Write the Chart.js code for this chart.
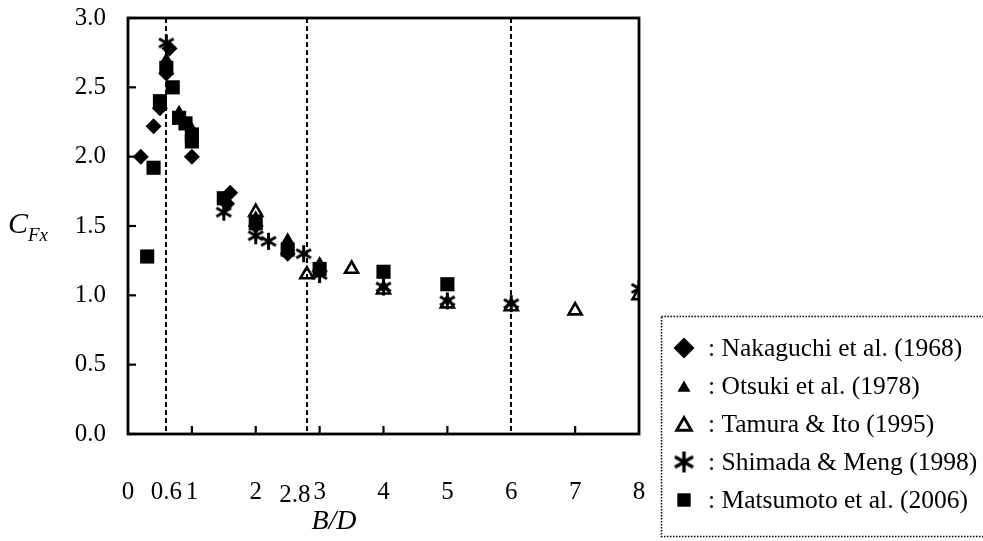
<!DOCTYPE html>
<html><head><meta charset="utf-8">
<script src="https://cdn.jsdelivr.net/npm/chart.js@4/dist/chart.umd.min.js"></script>
<style>html,body{margin:0;padding:0;background:#fff;overflow:hidden}</style>
</head><body>
<canvas id="c" width="983" height="541"></canvas>
<script>
// ---- data ----
const nakaguchiX = [0.2, 0.4, 0.5, 0.6, 0.65, 1.0, 1.6, 1.55, 2.0, 2.5];
const nakaguchiY = [2.0, 2.22, 2.35, 2.6, 2.78, 2.0, 1.74, 1.66, 1.5, 1.3];
const otsukiX = [0.6, 0.8, 1.0, 2.0, 2.5, 3.0, 4.0];
const otsukiY = [2.7, 2.32, 2.2, 1.56, 1.4, 1.23, 1.06];
const tamuraX = [2.0, 2.8, 3.5, 4.0, 5.0, 6.0, 7.0, 8.0];
const tamuraY = [1.6, 1.15, 1.19, 1.04, 0.94, 0.92, 0.89, 1.0];
const shimadaX = [0.6, 1.5, 2.0, 2.2, 2.75, 3.0, 4.0, 5.0, 6.0, 8.0];
const shimadaY = [2.82, 1.6, 1.43, 1.39, 1.3, 1.15, 1.06, 0.96, 0.94, 1.05];
const matsumotoX = [0.3, 0.4, 0.5, 0.6, 0.7, 0.8, 0.9, 1.0, 1.0, 1.5, 2.0, 2.5, 3.0, 4.0, 5.0];
const matsumotoY = [1.28, 1.92, 2.4, 2.64, 2.5, 2.28, 2.24, 2.16, 2.11, 1.7, 1.52, 1.33, 1.19, 1.17, 1.08];
const seriesNames = [": Nakaguchi et al. (1968)", ": Otsuki et al. (1978)", ": Tamura & Ito (1995)", ": Shimada & Meng (1998)", ": Matsumoto et al. (2006)"];
const xTickLabels = [0, 0.6, 1, 2, 2.8, 3, 4, 5, 6, 7, 8];
const xTickMarks = [1, 2, 3, 4, 5, 7];
const yTickLabels = [0, 0.5, 1.0, 1.5, 2.0, 2.5, 3.0];
const dashedLines = [0.6, 2.8, 6];

function pts(xs, ys) { return xs.map((x, i) => ({ x: x, y: ys[i] })); }
function makeAsterisk(size, lw) {
  const c = document.createElement('canvas');
  c.width = c.height = size;
  const g = c.getContext('2d');
  g.strokeStyle = '#000'; g.lineWidth = lw;
  const r = size / 2 - 1, cx = size / 2;
  [90, 30, 150].forEach(d => {
    const a = d * Math.PI / 180;
    g.beginPath();
    g.moveTo(cx - r * Math.cos(a), cx - r * Math.sin(a));
    g.lineTo(cx + r * Math.cos(a), cx + r * Math.sin(a));
    g.stroke();
  });
  return c;
}
const astSmall = makeAsterisk(19, 3);
const astBig = makeAsterisk(23, 3.4);

const styles = [
  { pointStyle: 'rectRot', radius: 8, bg: '#000', bw: 0 },
  { pointStyle: 'triangle', radius: 7.5, bg: '#000', bw: 0 },
  { pointStyle: 'triangle', radius: 7.5, bg: 'rgba(0,0,0,0)', bw: 2.6 },
  { pointStyle: astSmall, radius: 9, bg: '#000', bw: 0 },
  { pointStyle: 'rect', radius: 10, bg: '#000', bw: 0 }
];
const legendStyles = [
  { pointStyle: 'rectRot', radius: 10.5, borderWidth: 0 },
  { pointStyle: 'triangle', radius: 7.5, borderWidth: 0 },
  { pointStyle: 'triangle', radius: 8.5, borderWidth: 2.8, open: true },
  { pointStyle: astBig, radius: 11, borderWidth: 0 },
  { pointStyle: 'rect', radius: 9.5, borderWidth: 0 }
];
const allData = [pts(nakaguchiX, nakaguchiY), pts(otsukiX, otsukiY), pts(tamuraX, tamuraY), pts(shimadaX, shimadaY), pts(matsumotoX, matsumotoY)];

const SERIF = '"Liberation Serif", "Times New Roman", serif';

const framePlugin = {
  id: 'frame',
  beforeDatasetsDraw(chart) {
    const ctx = chart.ctx, xs = chart.scales.x, ys = chart.scales.y, a = chart.chartArea;
    ctx.save();
    ctx.strokeStyle = '#000'; ctx.lineWidth = 2; ctx.setLineDash([5, 3]);
    dashedLines.forEach(v => {
      const px = Math.round(xs.getPixelForValue(v));
      ctx.beginPath(); ctx.moveTo(px, a.top); ctx.lineTo(px, a.bottom); ctx.stroke();
    });
    ctx.setLineDash([]);
    ctx.lineWidth = 2.8;
    ctx.strokeRect(a.left, a.top, a.right - a.left, a.bottom - a.top);
    ctx.lineWidth = 2.2;
    yTickLabels.forEach(v => {
      const py = ys.getPixelForValue(v);
      ctx.beginPath(); ctx.moveTo(a.left, py); ctx.lineTo(a.left + 8, py); ctx.stroke();
    });
    xTickMarks.forEach(v => {
      const px = xs.getPixelForValue(v);
      ctx.beginPath(); ctx.moveTo(px, a.bottom); ctx.lineTo(px, a.bottom - 8); ctx.stroke();
    });
    ctx.fillStyle = '#000';
    ctx.font = '25px ' + SERIF;
    ctx.textAlign = 'right'; ctx.textBaseline = 'middle';
    yTickLabels.forEach(v => ctx.fillText(v.toFixed(1), a.left - 22, ys.getPixelForValue(v)));
    ctx.textAlign = 'center';
    const shift = { 2.8: [-12, 3] };
    xTickLabels.forEach(v => {
      const s = shift[v] || [0, 0];
      ctx.fillText(String(v), xs.getPixelForValue(v) + s[0], a.bottom + 58 + s[1]);
    });
    ctx.font = 'italic 30px ' + SERIF;
    ctx.textAlign = 'left'; ctx.textBaseline = 'alphabetic';
    ctx.fillText('C', 8, 233);
    ctx.font = 'italic 19px ' + SERIF;
    ctx.fillText('Fx', 28, 241);
    ctx.font = 'italic 28px ' + SERIF;
    ctx.textAlign = 'center'; ctx.textBaseline = 'middle';
    ctx.fillText('B/D', 334, a.bottom + 88);
    ctx.restore();
  },
  afterDraw(chart) {
    const ctx = chart.ctx;
    ctx.save();
    ctx.strokeStyle = '#000'; ctx.lineWidth = 1.5; ctx.setLineDash([1.5, 1.5]);
    ctx.strokeRect(661.5, 316.5, 330, 220);
    ctx.setLineDash([]);
    const rows = [348, 386, 424, 462, 500];
    seriesNames.forEach((name, i) => {
      const st = legendStyles[i];
      ctx.fillStyle = st.open ? 'rgba(0,0,0,0)' : '#000';
      ctx.strokeStyle = '#000';
      ctx.lineWidth = st.borderWidth;
      Chart.helpers.drawPoint(ctx, { pointStyle: st.pointStyle, radius: st.radius, borderWidth: st.borderWidth, rotation: 0 }, 684, rows[i] + (st.pointStyle === 'triangle' ? 2 : 0));
      ctx.fillStyle = '#000';
      ctx.font = '25.5px ' + SERIF;
      ctx.textAlign = 'left'; ctx.textBaseline = 'middle';
      ctx.fillText(name, 708, rows[i] + 1);
    });
    ctx.restore();
  }
};

new Chart(document.getElementById('c'), {
  type: 'scatter',
  data: {
    datasets: allData.map((d, i) => ({
      label: seriesNames[i],
      data: d,
      pointStyle: styles[i].pointStyle,
      pointRadius: styles[i].radius,
      pointBackgroundColor: styles[i].bg,
      pointBorderColor: '#000',
      pointBorderWidth: styles[i].bw,
      showLine: false
    }))
  },
  options: {
    responsive: false,
    animation: false,
    devicePixelRatio: 1,
    layout: { padding: { left: 128, right: 344, top: 18, bottom: 107 } },
    plugins: { legend: { display: false }, tooltip: { enabled: false } },
    scales: {
      x: { type: 'linear', min: 0, max: 8, display: false },
      y: { type: 'linear', min: 0, max: 3, display: false }
    }
  },
  plugins: [framePlugin]
});
</script>
</body></html>
